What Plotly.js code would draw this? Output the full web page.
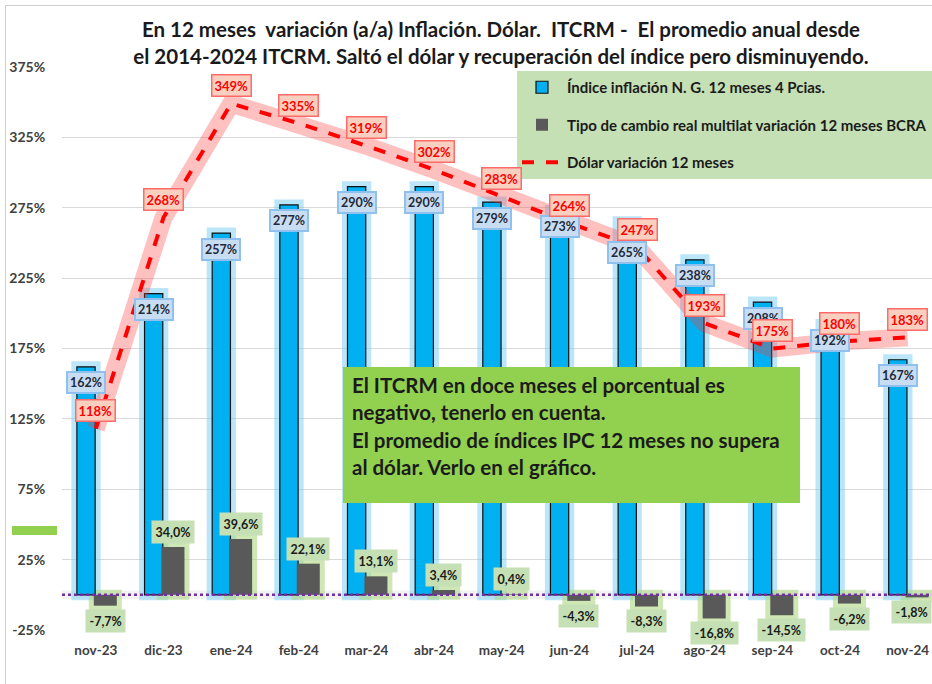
<!DOCTYPE html>
<html>
<head>
<meta charset="utf-8">
<script src="https://cdn.plot.ly/plotly-3.0.1.min.js"></script>
<style>
  html, body { margin:0; padding:0; background:#fff; }
  #wrap { position:relative; width:932px; height:684px; overflow:hidden; }
  #chart { position:absolute; left:0; top:0; width:932px; height:684px; }
  #frame { position:absolute; left:5px; top:5px; width:940px; height:700px;
           border-left:1px solid #cfcfcf; border-top:1px solid #cfcfcf; pointer-events:none; }
</style>
</head>
<body>
<div id="wrap"><div id="chart"></div><div id="frame"></div></div>
<script>
// ---- data ----
const categories = ['nov-23','dic-23','ene-24','feb-24','mar-24','abr-24','may-24','jun-24','jul-24','ago-24','sep-24','oct-24','nov-24'];
const inflacion = [162, 214, 257, 277, 290, 290, 279, 273, 265, 238, 208, 192, 167];
const itcrm = [-7.7, 34.0, 39.6, 22.1, 13.1, 3.4, 0.4, -4.3, -8.3, -16.8, -14.5, -6.2, -1.8];
const dolar = [118, 268, 349, 335, 319, 302, 283, 264, 247, 193, 175, 180, 183];
const seriesNames = ['Índice inflación N. G. 12 meses 4 Pcias.', 'Tipo de cambio real multilat variación 12 meses BCRA', 'Dólar variación 12 meses'];
const titleLines = ['En 12 meses  variación (a/a) Inflación. Dólar.  ITCRM -  El promedio anual desde', 'el 2014-2024 ITCRM. Saltó el dólar y recuperación del índice pero disminuyendo.'];
const noteLines = ['El ITCRM en doce meses el porcentual es', 'negativo, tenerlo en cuenta.', 'El promedio de índices IPC 12 meses no supera', 'al dólar. Verlo en el gráfico.'];
const yTicks = [-25, 25, 75, 125, 175, 225, 275, 325, 375];
const yTickLabels = ['-25%', '25%', '75%', '125%', '175%', '225%', '275%', '325%', '375%'];

// ---- label placement tweaks (px, style only) ----
const inflLabelShift = {8: -31};
const itcrmLabelXShift = {12: -6};

// ---- geometry helpers (pixel -> paper) ----
const M = {l:62, r:0, t:67, b:54};
const W = 932, H = 684;
const PW = W - M.l - M.r, PH = H - M.t - M.b;
const px = x => (x - M.l) / PW;
const py = y => (H - M.b - y) / PH;

const FONT = 'Lato, "Open Sans", sans-serif';
const blueOff = -0.28, blueW = 0.27, grayOff = -0.03, grayW = 0.34;

const traces = [
  { type:'bar', x:categories, y:inflacion, offset:blueOff, width:blueW, showlegend:false, hoverinfo:'skip',
    marker:{color:'rgba(120,205,245,0.5)', line:{color:'rgba(120,205,245,0.5)', width:11}} },
  { type:'bar', x:categories, y:itcrm, offset:grayOff, width:grayW, showlegend:false, hoverinfo:'skip',
    marker:{color:'rgba(175,215,130,0.6)', line:{color:'rgba(175,215,130,0.6)', width:10}} },
  { type:'bar', x:categories, y:inflacion, offset:blueOff, width:blueW, name:seriesNames[0], legendgroup:'a',
    marker:{color:'#00B0F0', line:{color:'#111', width:1.2}} },
  { type:'bar', x:categories, y:itcrm, offset:grayOff, width:grayW, name:seriesNames[1], legendgroup:'b',
    marker:{color:'#595959', line:{color:'#595959', width:0}} },
  { type:'scatter', mode:'lines', x:categories, y:dolar, showlegend:false, hoverinfo:'skip',
    line:{color:'rgba(255,60,60,0.32)', width:18} },
  { type:'scatter', mode:'lines', x:categories, y:dolar, name:seriesNames[2], legendgroup:'c',
    line:{color:'#FF0000', width:4, dash:'dash'} }
];

const annotations = [];
noteLines.forEach((t, i) => {
  annotations.push({ xref:'paper', yref:'paper', x:px(350), y:py(385 + i*27.3), xanchor:'left', yanchor:'middle',
    text:t, showarrow:false, font:{family:FONT, size:20.5, weight:'bold', color:'#1b1b1b'} });
});
inflacion.forEach((v, i) => {
  annotations.push({ x:i + blueOff + blueW/2, y:v, xref:'x', yref:'y', yshift:-16 + (inflLabelShift[i] ? inflLabelShift[i] + 16 : 0),
    yanchor:'middle', showarrow:false,
    text:v + '%', font:{family:FONT, size:12.5, weight:'bold', color:'#1F2A3A'},
    bgcolor:'#C9DDF2', bordercolor:'#8FC0EE', borderwidth:2, borderpad:2 });
});
itcrm.forEach((v, i) => {
  annotations.push({ x:i + grayOff + grayW/2, y:v, xref:'x', yref:'y', yshift: v >= 0 ? 15 : -15, xshift:itcrmLabelXShift[i] || 0,
    yanchor:'middle', showarrow:false,
    text:v.toFixed(1).replace('.', ',') + '%', font:{family:FONT, size:12.5, weight:'bold', color:'#1b1b1b'},
    bgcolor:'#C5E0B4', borderpad:3.5 });
});
dolar.forEach((v, i) => {
  annotations.push({ x:i, y:v, xref:'x', yref:'y', yshift:18, yanchor:'middle', showarrow:false,
    text:v + '%', font:{family:FONT, size:13, weight:'bold', color:'#FF0000'},
    bgcolor:'#F9D0C0', bordercolor:'#FF6A6A', borderwidth:1.5, borderpad:2 });
});

const shapes = [
  { type:'rect', xref:'paper', yref:'y', x0:0, x1:1, y0:-3, y1:3, fillcolor:'rgba(0,0,0,0.05)', line:{width:0}, layer:'below' },
  { type:'line', xref:'paper', yref:'y', x0:0, x1:1, y0:0, y1:0, line:{color:'#7030A0', width:2.5, dash:'dot'}, layer:'above' },
  { type:'rect', xref:'paper', yref:'paper', x0:px(343), x1:px(800), y0:py(503), y1:py(367), fillcolor:'#92D050', line:{width:0}, layer:'above' },
  { type:'rect', xref:'paper', yref:'paper', x0:px(12), x1:px(57), y0:py(535), y1:py(526), fillcolor:'#92D050', line:{width:0} }
];

const layout = {
  width:W, height:H,
  margin:{l:M.l, r:M.r, t:M.t, b:M.b, autoexpand:false},
  paper_bgcolor:'#fff', plot_bgcolor:'#fff',
  barmode:'overlay',
  font:{family:FONT, color:'#333'},
  title:{ text:titleLines.join('<br>'), x:501/W, xref:'container', xanchor:'center', y:1 - 37/H, yanchor:'middle',
          font:{family:FONT, size:20.5, weight:'bold', color:'#1a1a1a'} },
  xaxis:{ type:'category', range:[-0.5, 12.36], showgrid:false, zeroline:false, showline:false,
          ticks:'outside', ticklen:8, tickcolor:'rgba(0,0,0,0)',
          tickfont:{family:FONT, size:13.5, weight:'bold', color:'#404040'} },
  yaxis:{ range:[-25, 375], tickvals:yTicks, ticktext:yTickLabels, showgrid:true, gridcolor:'#D9D9D9', gridwidth:1,
          zeroline:false, showline:false, ticks:'outside', ticklen:13, tickcolor:'rgba(0,0,0,0)',
          tickfont:{family:FONT, size:14, weight:'bold', color:'#404040'} },
  legend:{ x:px(517), y:py(71), xanchor:'left', yanchor:'top', bgcolor:'#C5E0B4', borderwidth:0, itemwidth:40,
           traceorder:'grouped', tracegroupgap:15, font:{family:FONT, size:15, weight:'bold', color:'#1b1b1b'} },
  annotations:annotations,
  shapes:shapes
};

Plotly.newPlot('chart', traces, layout, {displayModeBar:false, staticPlot:true});
</script>
</body>
</html>
